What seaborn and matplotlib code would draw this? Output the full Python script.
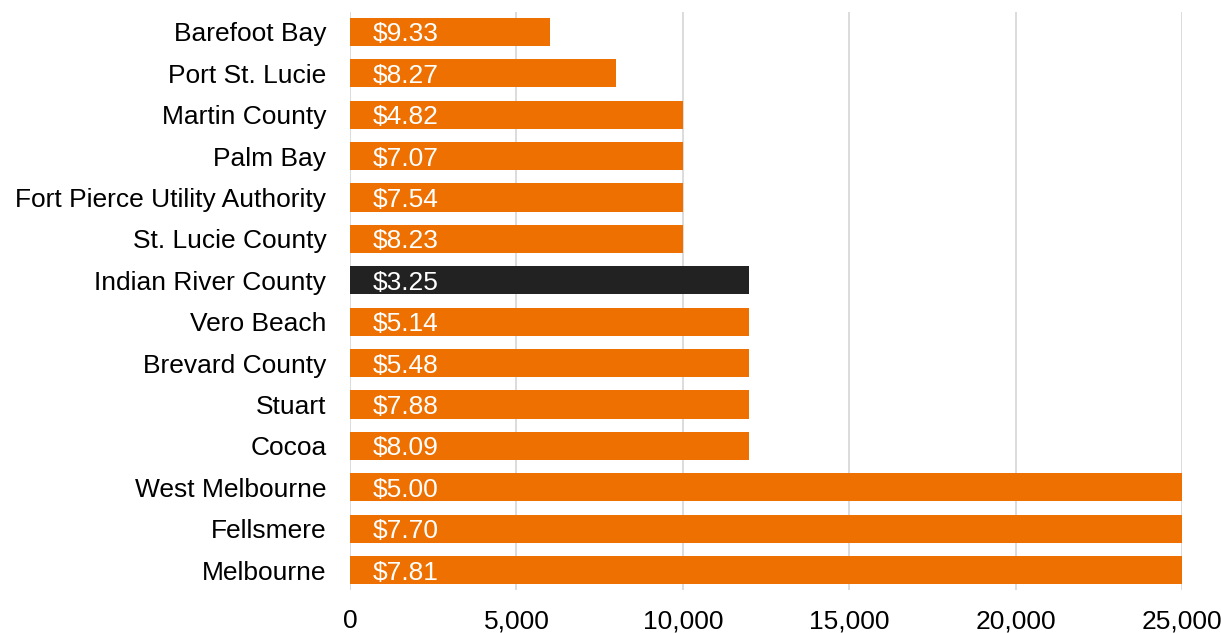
import matplotlib
matplotlib.use("Agg")
import matplotlib.pyplot as plt
import seaborn as sns
import pandas as pd

utilities = ["Barefoot Bay", "Port St. Lucie", "Martin County", "Palm Bay",
             "Fort Pierce Utility Authority", "St. Lucie County", "Indian River County",
             "Vero Beach", "Brevard County", "Stuart", "Cocoa", "West Melbourne",
             "Fellsmere", "Melbourne"]
values = [6000, 8000, 10000, 10000, 10000, 10000, 12000, 12000, 12000, 12000, 12000,
          25000, 25000, 25000]
labels = ["$9.33", "$8.27", "$4.82", "$7.07", "$7.54", "$8.23", "$3.25", "$5.14",
          "$5.48", "$7.88", "$8.09", "$5.00", "$7.70", "$7.81"]
highlight = "Indian River County"
x_ticks = [0, 5000, 10000, 15000, 20000, 25000]

df = pd.DataFrame({"utility": utilities, "value": values, "label": labels})
df["group"] = ["hl" if u == highlight else "base" for u in utilities]

sns.set_theme(style="white")
plt.rcParams['font.family'] = ['Liberation Sans', 'DejaVu Sans']

fig = plt.figure(figsize=(12.21, 6.33), dpi=100)
ax = fig.add_axes([350/1221, 1-590/633, (1182-350)/1221, (590-12)/633])

sns.barplot(data=df, x="value", y="utility", hue="group", orient="h",
            palette={"base": "#ED7000", "hl": "#222222"}, dodge=False,
            width=0.68, legend=False, ax=ax, saturation=1, linewidth=0)

for i, (v, lab) in enumerate(zip(values, labels)):
    ax.text(680, i, lab, color="white", fontsize=19, va="center_baseline", ha="left")

ax.set_xlim(0, 25000)
ax.set_ylim(13.48, -0.48)
ax.set_xticks(x_ticks)
ax.set_xticklabels([f"{t:,}" for t in x_ticks], fontsize=19, color="black")
ax.tick_params(axis="y", labelsize=19, pad=17, length=0, labelcolor="black")
ax.tick_params(axis="x", pad=14, length=0)
ax.set_xlabel("")
ax.set_ylabel("")
ax.grid(axis="x", color="#d9d9d9", linewidth=1.3)
ax.set_axisbelow(True)
for s in ax.spines.values():
    s.set_visible(False)

fig.savefig("out.png", dpi=100)
